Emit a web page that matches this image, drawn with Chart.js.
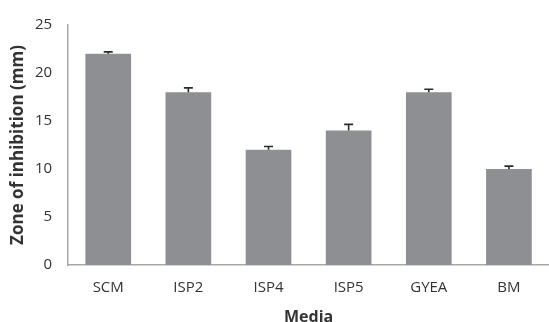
<!DOCTYPE html>
<html>
<head>
<meta charset="utf-8">
<script src="https://cdn.jsdelivr.net/npm/chart.js@4.4.1/dist/chart.umd.min.js"></script>
<style>
  html, body { margin: 0; padding: 0; background: #fff; }
  #wrap { width: 549px; height: 322px; }
</style>
</head>
<body>
<div id="wrap"><canvas id="zoneChart" width="549" height="322"></canvas></div>
<script>
// media tested and mean zone of inhibition (mm) with error (upper only)
const media = ['SCM', 'ISP2', 'ISP4', 'ISP5', 'GYEA', 'BM'];
const zoneMM = [22, 18, 12, 14, 18, 10];
const zoneErr = [0.2, 0.45, 0.35, 0.65, 0.3, 0.3];
const yTicks = [0, 5, 10, 15, 20, 25];

const FONT = '"Open Sans", Lato, sans-serif';

// draw the one-sided error bars on top of each bar
const errorBars = {
    id: 'errorBars',
    afterDatasetsDraw: (chart) => {
        const ctx = chart.ctx;
        const yScale = chart.scales.y;
        const meta = chart.getDatasetMeta(0);
        ctx.save();
        ctx.strokeStyle = '#2b2b2b';
        ctx.lineWidth = 1.6;
        meta.data.forEach((bar, i) => {
            const yTop = yScale.getPixelForValue(zoneMM[i] + zoneErr[i]);
            const yBase = yScale.getPixelForValue(zoneMM[i]);
            ctx.beginPath();
            ctx.moveTo(bar.x, yBase);
            ctx.lineTo(bar.x, yTop);
            ctx.moveTo(bar.x - 4.5, yTop);
            ctx.lineTo(bar.x + 4.5, yTop);
            ctx.stroke();
        });
        ctx.restore();
    }
};

new Chart(document.getElementById('zoneChart'), {
    type: 'bar',
    data: {
        labels: media,
        datasets: [{
            data: zoneMM,
            backgroundColor: '#8e8f92',
            borderWidth: 0,
            categoryPercentage: 1,
            barPercentage: 0.57
        }]
    },
    options: {
        responsive: false,
        animation: false,
        layout: { padding: { top: 14, right: 0, left: 0, bottom: 0 } },
        plugins: {
            legend: { display: false },
            tooltip: { enabled: false }
        },
        scales: {
            x: {
                grid: { display: false, drawTicks: false },
                border: { display: true, color: '#a8a8a8', width: 1.5 },
                ticks: { color: '#333', font: { family: FONT, size: 15 }, padding: 14 },
                title: {
                    display: true,
                    text: 'Media',
                    color: '#333',
                    font: { family: FONT, size: 16, weight: 'bold' },
                    padding: { top: -3.6, bottom: -4.6 }
                }
            },
            y: {
                min: 0,
                max: 25,
                afterBuildTicks: (scale) => {
                    scale.ticks = yTicks.map(v => ({ value: v }));
                },
                grid: { display: false, drawTicks: false },
                border: { display: true, color: '#a8a8a8', width: 1.5 },
                ticks: { color: '#333', font: { family: FONT, size: 15 }, padding: 16 },
                title: {
                    display: true,
                    text: 'Zone of inhibition (mm)',
                    color: '#333',
                    font: { family: FONT, size: 17, weight: 'bold' },
                    padding: { top: 7.8, bottom: -9.2 }
                }
            }
        }
    },
    plugins: [errorBars]
});
</script>
</body>
</html>
